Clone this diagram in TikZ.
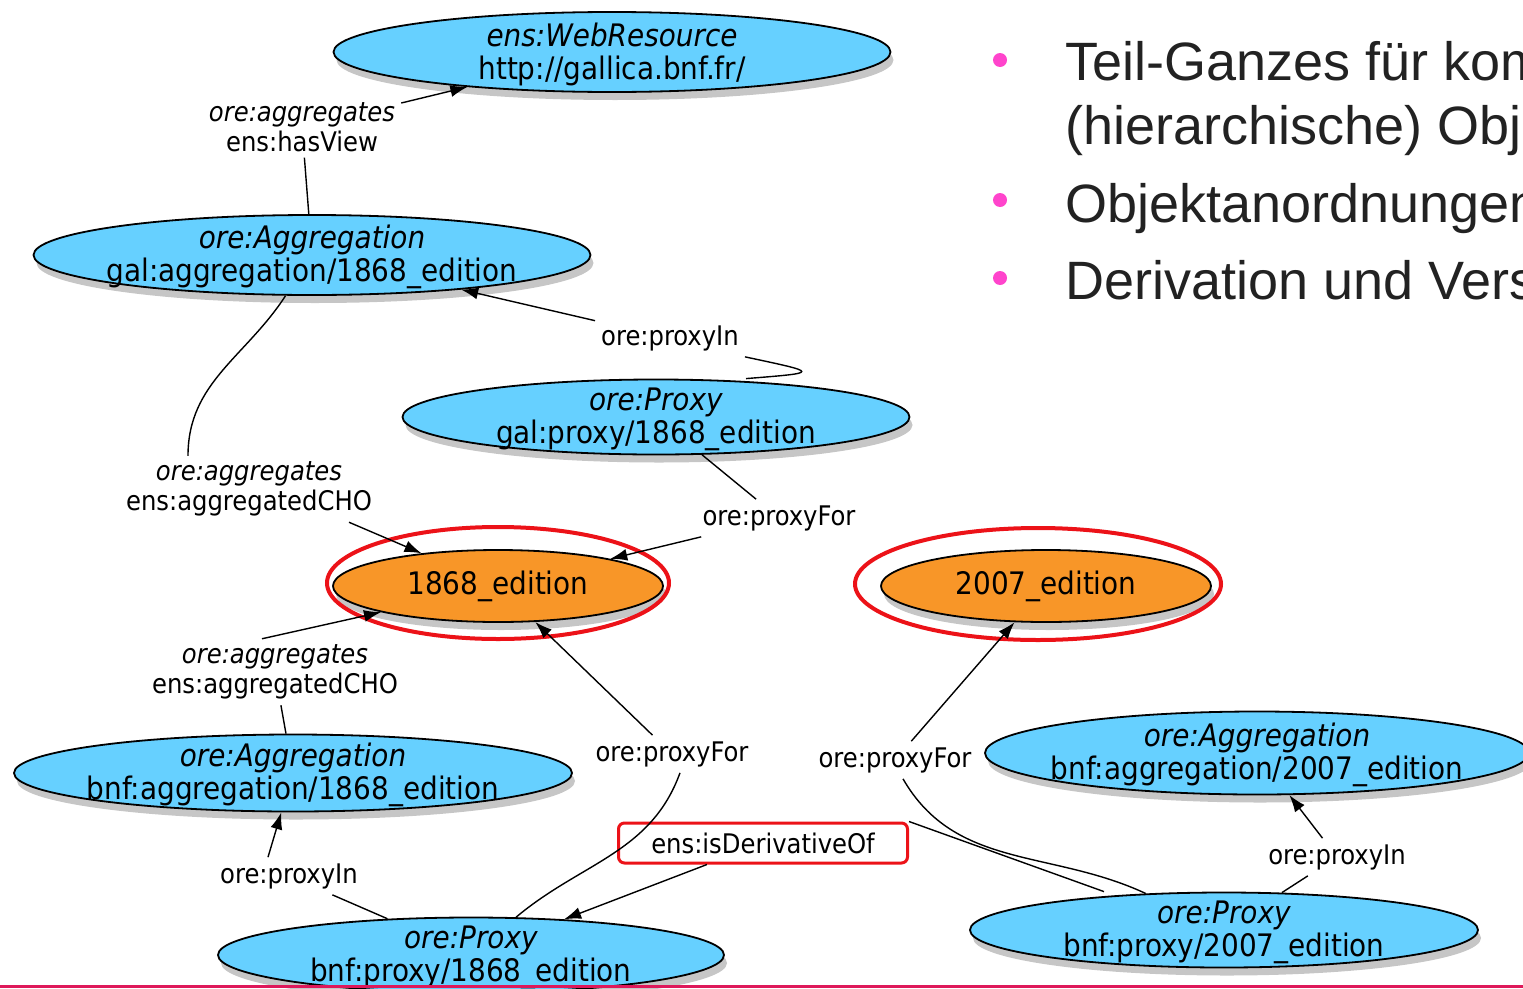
\documentclass[tikz,border=0pt]{standalone}
\usepackage{fontspec}
\setmainfont{Liberation Sans}
\newfontfamily\grafflefont{DejaVu Sans Condensed}
\usetikzlibrary{arrows.meta}
\usetikzlibrary{calc}
\usetikzlibrary{shapes.geometric}
\usetikzlibrary{shadows}
\tikzset{>={Latex[length=17pt,width=12pt]}}
\definecolor{ovalblue}{RGB}{102,208,255}
\definecolor{ovalorange}{RGB}{248,150,40}
\definecolor{ringred}{RGB}{236,18,24}
\definecolor{bulletpink}{RGB}{255,68,204}
\definecolor{footerred}{RGB}{222,24,90}
\definecolor{slidegray}{RGB}{34,34,34}
\tikzstyle{blackline}=[draw=black,line width=1.4pt]
\tikzstyle{blueoval}=[ellipse,draw=black,line width=1.8pt,fill=ovalblue,inner sep=0pt,
  drop shadow={shadow xshift=3pt,shadow yshift=-8pt,opacity=0.45}]
\tikzstyle{orangeoval}=[blueoval,fill=ovalorange,font=\grafflefont\fontsize{31}{33}\selectfont]
\tikzstyle{ovaltext}=[align=center,inner sep=0pt,yshift=-2pt,font=\grafflefont\fontsize{31}{33}\selectfont]
\tikzstyle{edgelabel}=[fill=white,align=center,inner sep=6pt,font=\grafflefont\fontsize{27}{29.5}\selectfont]
\tikzstyle{redring}=[draw=ringred,line width=4pt]
\tikzstyle{slidetext}=[anchor=base west,inner sep=0pt,text=slidegray,font=\fontsize{54}{64}\selectfont]

\begin{document}
\begin{tikzpicture}[x=1pt,y=-1pt]
    \useasboundingbox (0,0) rectangle (1523,988);
    \clip (0,0) rectangle (1523,988);

    \node[blueoval,minimum width=557pt,minimum height=80pt,
      label={[ovaltext]center:{\textit{ens:WebResource}\\http://gallica.bnf.fr/}}] (webres) at (612,52) {};
    \node[blueoval,minimum width=557pt,minimum height=80pt,
      label={[ovaltext]center:{\textit{ore:Aggregation}\\gal:aggregation/1868\_edition}}] (galagg) at (312,255) {};
    \node[blueoval,minimum width=507pt,minimum height=75pt,
      label={[ovaltext]center:{\textit{ore:Proxy}\\gal:proxy/1868\_edition}}] (galproxy) at (656,417) {};
    \node[orangeoval,minimum width=330pt,minimum height=72pt] (ed1868) at (498,586) {1868\_edition};
    \node[orangeoval,minimum width=330pt,minimum height=72pt] (ed2007) at (1046,586) {2007\_edition};
    \node[blueoval,minimum width=558pt,minimum height=77pt,
      label={[ovaltext]center:{\textit{ore:Aggregation}\\bnf:aggregation/1868\_edition}}] (bnfagg1868) at (293,773) {};
    \node[blueoval,minimum width=544pt,minimum height=83pt,
      label={[ovaltext]center:{\textit{ore:Aggregation}\\bnf:aggregation/2007\_edition}}] (bnfagg2007) at (1257,753) {};
    \node[blueoval,minimum width=506pt,minimum height=75pt,
      label={[ovaltext]center:{\textit{ore:Proxy}\\bnf:proxy/1868\_edition}}] (bnfproxy1868) at (471,955) {};
    \node[blueoval,minimum width=508pt,minimum height=75pt,
      label={[ovaltext]center:{\textit{ore:Proxy}\\bnf:proxy/2007\_edition}}] (bnfproxy2007) at (1224,930) {};

    \draw[redring] ([yshift=3pt]ed1868.center) ellipse [x radius=171pt,y radius=56pt];
    \draw[redring] ([xshift=-8pt,yshift=2pt]ed2007.center) ellipse [x radius=183pt,y radius=56pt];

    \node[edgelabel] (lblview) at (302,127) {\textit{ore:aggregates}\\ens:hasView};
    \node[edgelabel] (lblproxyin1) at (670,338) {ore:proxyIn};
    \node[edgelabel] (lblcho1) at (249,489) {\textit{ore:aggregates}\\ens:aggregatedCHO};
    \node[edgelabel] (lblproxyfor1) at (779,518) {ore:proxyFor};
    \node[edgelabel] (lblcho2) at (275,672) {\textit{ore:aggregates}\\ens:aggregatedCHO};
    \node[edgelabel] (lblproxyfor2) at (672,754) {ore:proxyFor};
    \node[edgelabel] (lblproxyfor3) at (895,760) {ore:proxyFor};
    \node[edgelabel] (lblproxyin2) at (289,876) {ore:proxyIn};
    \node[edgelabel] (lblproxyin3) at (1337,857) {ore:proxyIn};
    \node[edgelabel,draw=ringred,line width=3pt,rounded corners=6pt,
      minimum width=289pt,minimum height=40pt] (derivative) at (763,843) {ens:isDerivativeOf};

    \draw[blackline] (galagg) -- (lblview);
    \draw[blackline,->] (lblview) -- (webres);
    \draw[blackline] (galagg) to[out=-123,in=90] ([xshift=-61pt]lblcho1.north);
    \draw[blackline,->] ([xshift=100pt]lblcho1.south) -- (ed1868);
    \draw[blackline] ([xshift=90pt]galproxy.north) .. controls +(75,-6) and +(75,16) .. (lblproxyin1.south east);
    \draw[blackline,->] (lblproxyin1) -- (galagg);
    \draw[blackline] (galproxy) -- (lblproxyfor1);
    \draw[blackline,->] (lblproxyfor1) -- (ed1868);
    \draw[blackline] (bnfagg1868) -- (lblcho2);
    \draw[blackline,->] ([xshift=-13pt]lblcho2.north) -- (ed1868);
    \draw[blackline] (bnfproxy1868) -- (lblproxyin2);
    \draw[blackline,->] ([xshift=-21pt]lblproxyin2.north) -- (bnfagg1868);
    \draw[blackline] (bnfproxy1868) to[out=40,in=-110] ([xshift=8pt]lblproxyfor2.south);
    \draw[blackline,->] (lblproxyfor2) -- (ed1868);
    \draw[blackline] ([xshift=-120pt]bnfproxy2007.north) -- (derivative.north east);
    \draw[blackline,->] (derivative) -- (bnfproxy1868);
    \draw[blackline] (bnfproxy2007) to[out=155,in=-60] ([xshift=8pt]lblproxyfor3.south);
    \draw[blackline,->] (lblproxyfor3) -- (ed2007);
    \draw[blackline] (bnfproxy2007) -- (lblproxyin3);
    \draw[blackline,->] (lblproxyin3) -- (bnfagg2007);

    % slide bullets
    \fill[bulletpink] (1000,60) circle (7pt);
    \fill[bulletpink] (1000,200) circle (7pt);
    \fill[bulletpink] (1000,278) circle (7pt);
    \node[slidetext] (item1) at (1065,80) {Teil-Ganzes für komplexe};
    \node[slidetext] (item1b) at (1065,144) {(hierarchische) Objekte};
    \node[slidetext] (item2) at (1065,222) {Objektanordnungen};
    \node[slidetext] (item3) at (1065,299) {Derivation und Versionen};

    \draw[footerred,line width=3pt] (0,986) -- (1523,986);
\end{tikzpicture}
\end{document}
